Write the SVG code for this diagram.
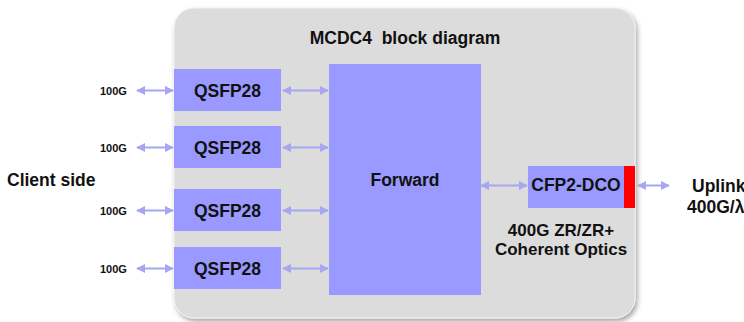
<svg xmlns="http://www.w3.org/2000/svg" width="744" height="322" viewBox="0 0 744 322">
<defs>
<filter id="sh" x="-5%" y="-5%" width="115%" height="115%">
<feDropShadow dx="2" dy="3" stdDeviation="2.5" flood-color="#000" flood-opacity="0.35"/>
</filter>
<marker id="ah" viewBox="0 0 10 10" refX="9" refY="5" markerWidth="9" markerHeight="9" markerUnits="userSpaceOnUse" orient="auto-start-reverse">
<path d="M0,0 L10,5 L0,10 Z" fill="#a6a6f2"/>
</marker>
<style>
.t{font-family:"Liberation Sans",Arial,sans-serif;font-weight:bold;fill:#111}
.blk{fill:#9999ff}
.c{stroke:#a6a6f2;stroke-width:2;fill:none;marker-start:url(#ah);marker-end:url(#ah)}
</style>
</defs>
<rect width="744" height="322" fill="#fff"/>
<g id="chassis">
<rect x="174" y="8" width="461" height="310" rx="20" fill="#dcdcdc" stroke="#f2f2f2" stroke-width="1" filter="url(#sh)"/>
<text class="t" x="405" y="44" font-size="17.5" text-anchor="middle" xml:space="preserve">MCDC4  block diagram</text>
</g>
<g id="client-label"><text class="t" x="7" y="186" font-size="17.5">Client side</text></g>
<g id="qsfp1"><rect class="blk" x="174" y="69" width="107" height="42"/><text class="t" x="227.5" y="97" font-size="17.5" text-anchor="middle">QSFP28</text></g>
<g id="qsfp2"><rect class="blk" x="174" y="126" width="107" height="42"/><text class="t" x="227.5" y="154" font-size="17.5" text-anchor="middle">QSFP28</text></g>
<g id="qsfp3"><rect class="blk" x="174" y="189" width="107" height="42"/><text class="t" x="227.5" y="217" font-size="17.5" text-anchor="middle">QSFP28</text></g>
<g id="qsfp4"><rect class="blk" x="174" y="247" width="107" height="42"/><text class="t" x="227.5" y="275" font-size="17.5" text-anchor="middle">QSFP28</text></g>
<g id="forward"><rect class="blk" x="329" y="64" width="152" height="231"/><text class="t" x="405" y="186" font-size="17.5" text-anchor="middle">Forward</text></g>
<g id="cfp2"><rect class="blk" x="528" y="166" width="97" height="42"/><rect x="624" y="166" width="11" height="42" fill="#ff0000"/><text class="t" x="576" y="191" font-size="17.5" text-anchor="middle">CFP2-DCO</text>
<text class="t" x="561" y="236" font-size="17" text-anchor="middle">400G ZR/ZR+</text>
<text class="t" x="561" y="255" font-size="17" text-anchor="middle">Coherent Optics</text></g>
<g id="rates">
<text class="t" x="100" y="94.5" font-size="11">100G</text>
<text class="t" x="100" y="151.5" font-size="11">100G</text>
<text class="t" x="100" y="214.5" font-size="11">100G</text>
<text class="t" x="100" y="272.5" font-size="11">100G</text>
</g>
<g id="uplink"><text class="t" x="692" y="192" font-size="17.5">Uplink</text><text class="t" x="687" y="213" font-size="17.5">400G/λ</text></g>
<g id="connectors">
<line class="c" x1="137" y1="90.5" x2="173" y2="90.5"/>
<line class="c" x1="137" y1="147.5" x2="173" y2="147.5"/>
<line class="c" x1="137" y1="210.5" x2="173" y2="210.5"/>
<line class="c" x1="137" y1="268.5" x2="173" y2="268.5"/>
<line class="c" x1="283" y1="90.5" x2="328" y2="90.5"/>
<line class="c" x1="283" y1="147.5" x2="328" y2="147.5"/>
<line class="c" x1="283" y1="210.5" x2="328" y2="210.5"/>
<line class="c" x1="283" y1="268.5" x2="328" y2="268.5"/>
<line class="c" x1="481" y1="185.5" x2="527" y2="185.5"/>
<line class="c" x1="638" y1="185.5" x2="669" y2="185.5"/>
</g>
</svg>
